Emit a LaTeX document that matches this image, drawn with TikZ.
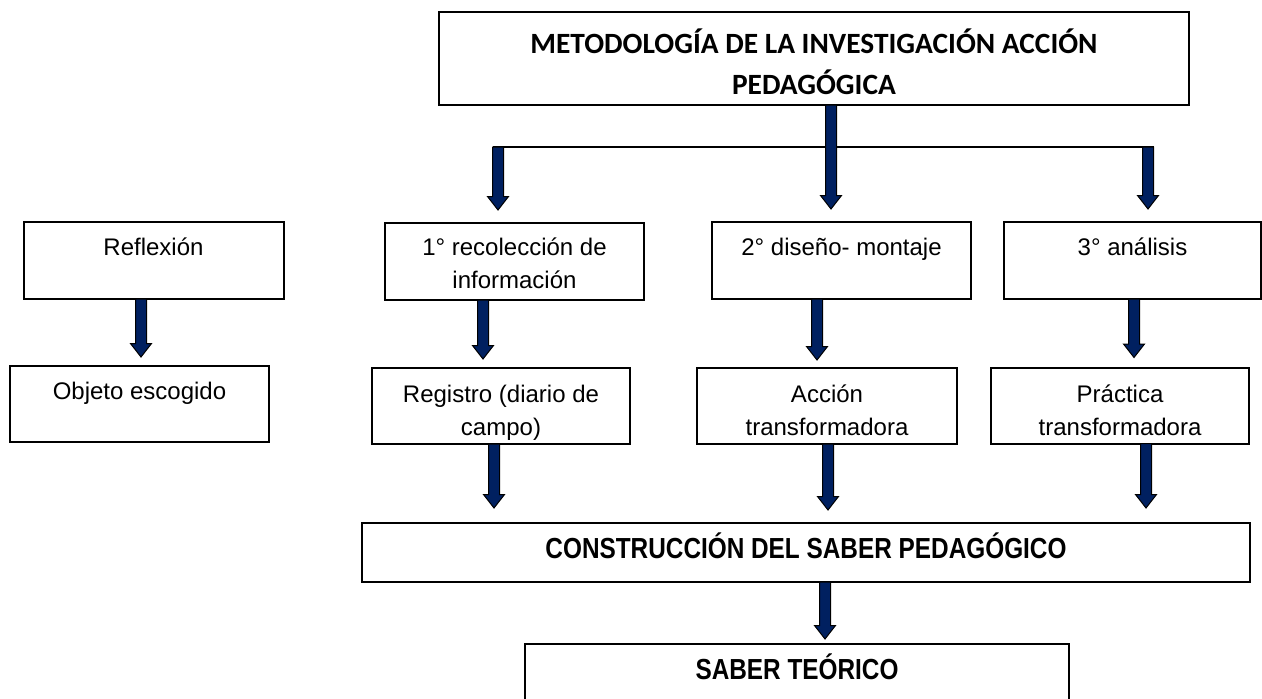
\documentclass[tikz,border=0pt]{standalone}
\usepackage{fontspec}
\setmainfont{Liberation Sans}
\newfontfamily\calibrifont{Carlito}
\newfontfamily\narrowfont{Liberation Sans}[FakeStretch=0.84]
\usetikzlibrary{calc}
\definecolor{navyfill}{HTML}{002060}
\begin{document}
\begin{tikzpicture}[x=0.5pt,y=-0.5pt,
  box/.style={draw=black, line width=1pt, fill=white, inner sep=0pt, outer sep=0pt, align=center, font=\fontsize{12}{16.5}\selectfont},
  titlefont/.style={font=\calibrifont\bfseries\fontsize{14.7}{20.5}\selectfont},
  boldnarrow/.style={font=\narrowfont\bfseries\fontsize{14.5}{17}\selectfont},
  blockarrow/.style={draw=black, fill=navyfill, line width=0.5pt, line join=miter,
    to path={let \p1=(\tikztostart), \p2=(\tikztotarget) in
      (\x1-2.75pt,\y1) -- (\x1+2.75pt,\y1) -- (\x1+2.75pt,\y2+6.75pt) -- (\x1+5.25pt,\y2+6.75pt)
      -- (\x1,\y2) -- (\x1-5.25pt,\y2+6.75pt) -- (\x1-2.75pt,\y2+6.75pt) -- cycle}}
]
\useasboundingbox (0,0) rectangle (1262,698);
\clip (0,0) rectangle (1262,698);

\node[box, titlefont, minimum width=375pt, minimum height=46.5pt] (top) at (814,58.5)
  {METODOLOGÍA DE LA INVESTIGACIÓN ACCIÓN\\PEDAGÓGICA\\[-23.5pt]~};

\node[box, minimum width=130pt, minimum height=38.5pt] (refl) at (153.5,260.5) {Reflexión\\[-3pt]~};
\node[box, minimum width=129.5pt, minimum height=38pt] (obj) at (139.5,404) {Objeto escogido\\[-3pt]~};

\node[box, minimum width=129.5pt, minimum height=38.5pt] (rec) at (514.5,261.5) {1° recolección de\\información\\[-18.5pt]~};
\node[box, minimum width=129.5pt, minimum height=38.5pt] (dis) at (841.5,260.5) {2° diseño- montaje\\[-3pt]~};
\node[box, minimum width=128.5pt, minimum height=38.5pt] (ana) at (1132.5,260.5) {3° análisis\\[-3pt]~};

\node[box, minimum width=129pt, minimum height=38pt] (reg) at (501,406) {Registro (diario de\\campo)\\[-21pt]~};
\node[box, minimum width=130pt, minimum height=38pt] (acc) at (827,406) {Acción\\transformadora\\[-21pt]~};
\node[box, minimum width=129pt, minimum height=38pt] (pra) at (1120,405.5) {Práctica\\transformadora\\[-21pt]~};

\node[box, boldnarrow, minimum width=444pt, minimum height=29.5pt] (con) at (806,552.5) {CONSTRUCCIÓN DEL SABER PEDAGÓGICO\\[-10pt]~};
\node[box, boldnarrow, minimum width=272pt, minimum height=30pt] (sab) at (797,674) {SABER TEÓRICO\\[-10pt]~};

\coordinate (hlL) at (493,147);
\coordinate (hlR) at (1154,147);
\coordinate (aL) at (498,147);
\coordinate (aR) at (1148,147);
\draw[line width=1pt] (hlL) -- (hlR);

\draw[blockarrow] ([xshift=8.5pt]top.south) to ([yshift=6.5pt]dis.north);
\draw[blockarrow] (aL) to ([yshift=6.5pt]rec.north);
\draw[blockarrow] (aR) to ([yshift=6.5pt]ana.north);
\draw[blockarrow] ([xshift=-6.25pt]refl.south) to ([yshift=4.5pt]obj.north);
\draw[blockarrow] ([xshift=-15.75pt]rec.south) to ([yshift=4.5pt]reg.north);
\draw[blockarrow] ([xshift=-12.25pt]dis.south) to ([yshift=4pt]acc.north);
\draw[blockarrow] ([xshift=0.75pt]ana.south) to ([yshift=5pt]pra.north);
\draw[blockarrow] ([xshift=-3.5pt]reg.south) to ([yshift=7.5pt]con.north);
\draw[blockarrow] ([xshift=0.5pt]acc.south) to ([yshift=6.5pt]con.north);
\draw[blockarrow] ([xshift=13pt]pra.south) to ([yshift=7.5pt]con.north);
\draw[blockarrow] ([xshift=9.5pt]con.south) to ([yshift=2.5pt]sab.north);
\end{tikzpicture}
\end{document}
